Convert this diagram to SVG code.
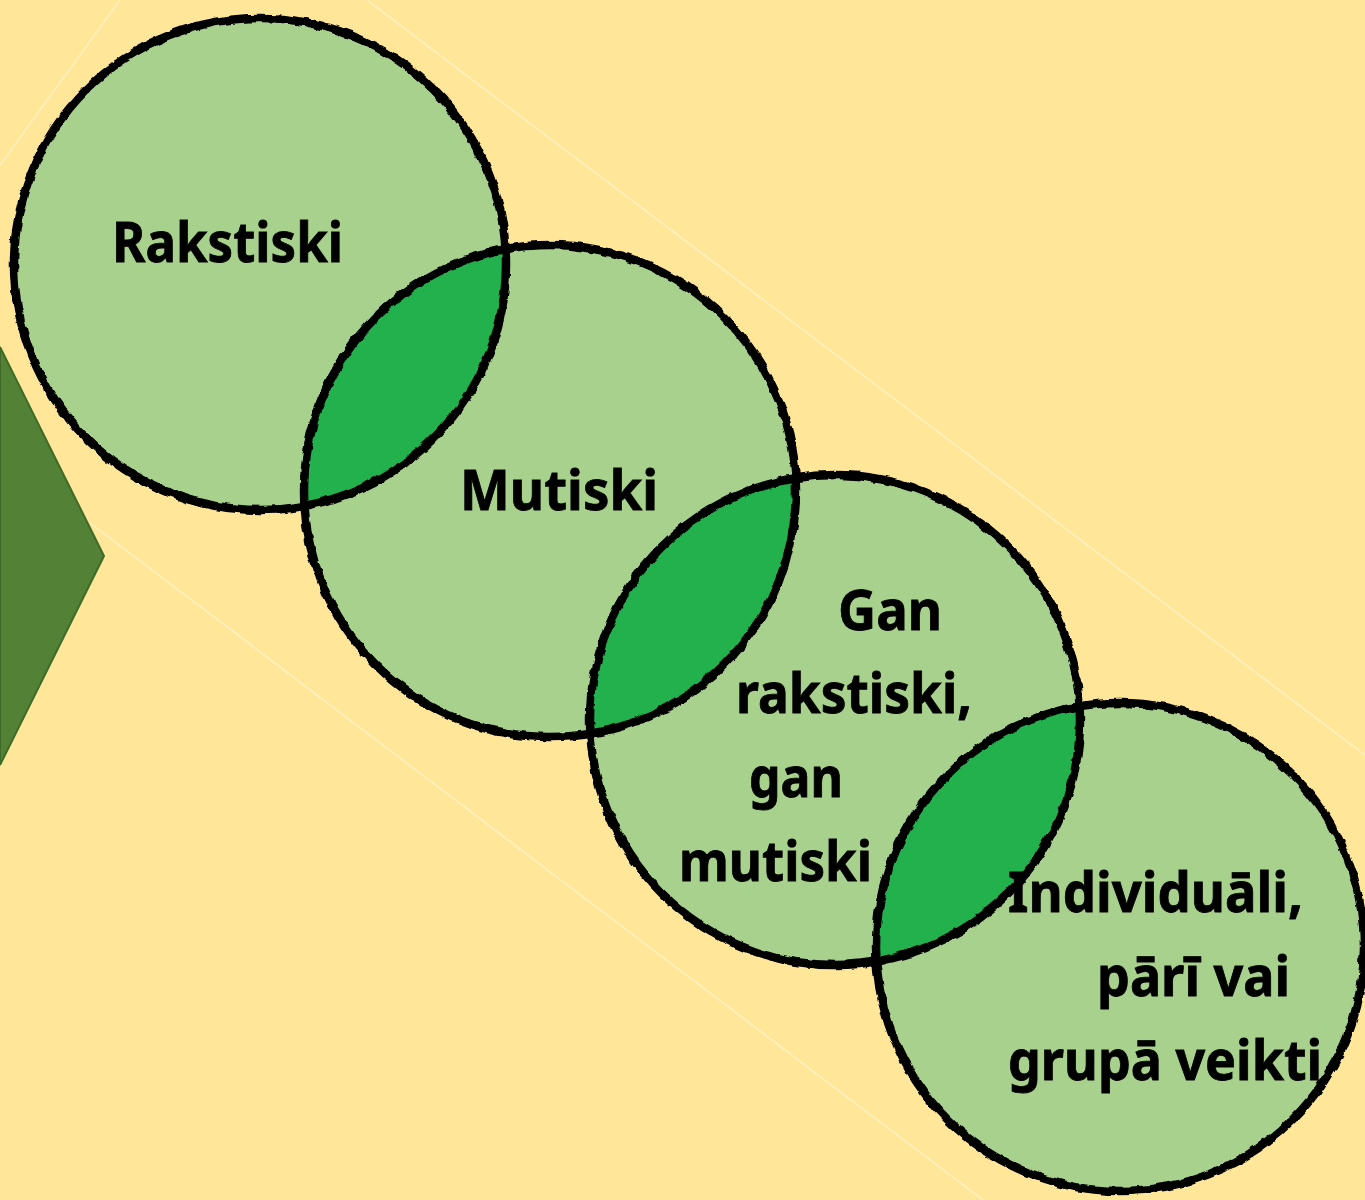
<svg xmlns="http://www.w3.org/2000/svg" width="1365" height="1200" viewBox="0 0 1365 1200">
<style>
.bg{fill:#FFE699}
.circ{fill:#A9D18E}
.lens{fill:#22B14C}
.ring{fill:none;stroke:#000;stroke-width:8.5}
.lbl{font-family:"Noto Sans","Open Sans","Liberation Sans",sans-serif;font-weight:bold;font-size:56px;fill:#000;stroke:#000;stroke-width:0.8}
.faint{fill:none;stroke:#FFF3CC;stroke-width:1.2}
</style>
<defs>
<filter id="rough" x="-5%" y="-5%" width="110%" height="110%">
<feTurbulence type="fractalNoise" baseFrequency="0.09" numOctaves="2" seed="3" result="n"/>
<feDisplacementMap in="SourceGraphic" in2="n" scale="5" xChannelSelector="R" yChannelSelector="G"/>
</filter>
<clipPath id="c1"><circle cx="260" cy="264" r="246"/></clipPath>
<clipPath id="c2"><circle cx="550" cy="491" r="246"/></clipPath>
<clipPath id="c3"><circle cx="835" cy="720" r="245"/></clipPath>
</defs>
<rect class="bg" x="0" y="0" width="1365" height="1200"/>
<g id="frame">
<line class="faint" x1="0" y1="165" x2="120" y2="0"/>
<line class="faint" x1="367" y1="0" x2="1365" y2="755"/>
<line class="faint" x1="90" y1="523" x2="983" y2="1200"/>
</g>
<g id="chevron">
<polygon points="0,347 104,556 0,765" fill="#538135" stroke="#3F6B27" stroke-width="2"/>
</g>
<g id="node-rakstiski">
<circle class="circ" cx="260" cy="264" r="246"/>
</g>
<g id="node-mutiski">
<circle class="circ" cx="550" cy="491" r="246"/>
</g>
<g id="node-gan">
<circle class="circ" cx="835" cy="720" r="245"/>
</g>
<g id="node-individuali">
<circle class="circ" cx="1120" cy="947" r="244"/>
</g>
<g id="overlaps">
<circle class="lens" cx="550" cy="491" r="246" clip-path="url(#c1)"/>
<circle class="lens" cx="835" cy="720" r="245" clip-path="url(#c2)"/>
<circle class="lens" cx="1120" cy="947" r="244" clip-path="url(#c3)"/>
</g>
<g id="outlines" filter="url(#rough)">
<circle class="ring" cx="260" cy="264" r="246"/>
<circle class="ring" cx="550" cy="491" r="246"/>
<circle class="ring" cx="835" cy="720" r="245"/>
<circle class="ring" cx="1120" cy="947" r="244"/>
</g>
<g id="labels">
<text class="lbl" x="112" y="262" textLength="231" lengthAdjust="spacingAndGlyphs">Rakstiski</text>
<text class="lbl" x="460" y="510" textLength="198" lengthAdjust="spacingAndGlyphs">Mutiski</text>
<text class="lbl" x="838" y="630" textLength="104" lengthAdjust="spacingAndGlyphs">Gan</text>
<text class="lbl" x="736" y="713" textLength="236" lengthAdjust="spacingAndGlyphs">rakstiski,</text>
<text class="lbl" x="749" y="797" textLength="94" lengthAdjust="spacingAndGlyphs">gan</text>
<text class="lbl" x="679" y="881" textLength="193" lengthAdjust="spacingAndGlyphs">mutiski</text>
<text class="lbl" x="1008" y="912" textLength="295" lengthAdjust="spacingAndGlyphs">Individuāli,</text>
<text class="lbl" x="1097" y="996" textLength="193" lengthAdjust="spacingAndGlyphs">pārī vai</text>
<text class="lbl" x="1008" y="1080" textLength="314" lengthAdjust="spacingAndGlyphs">grupā veikti</text>
</g>
</svg>
